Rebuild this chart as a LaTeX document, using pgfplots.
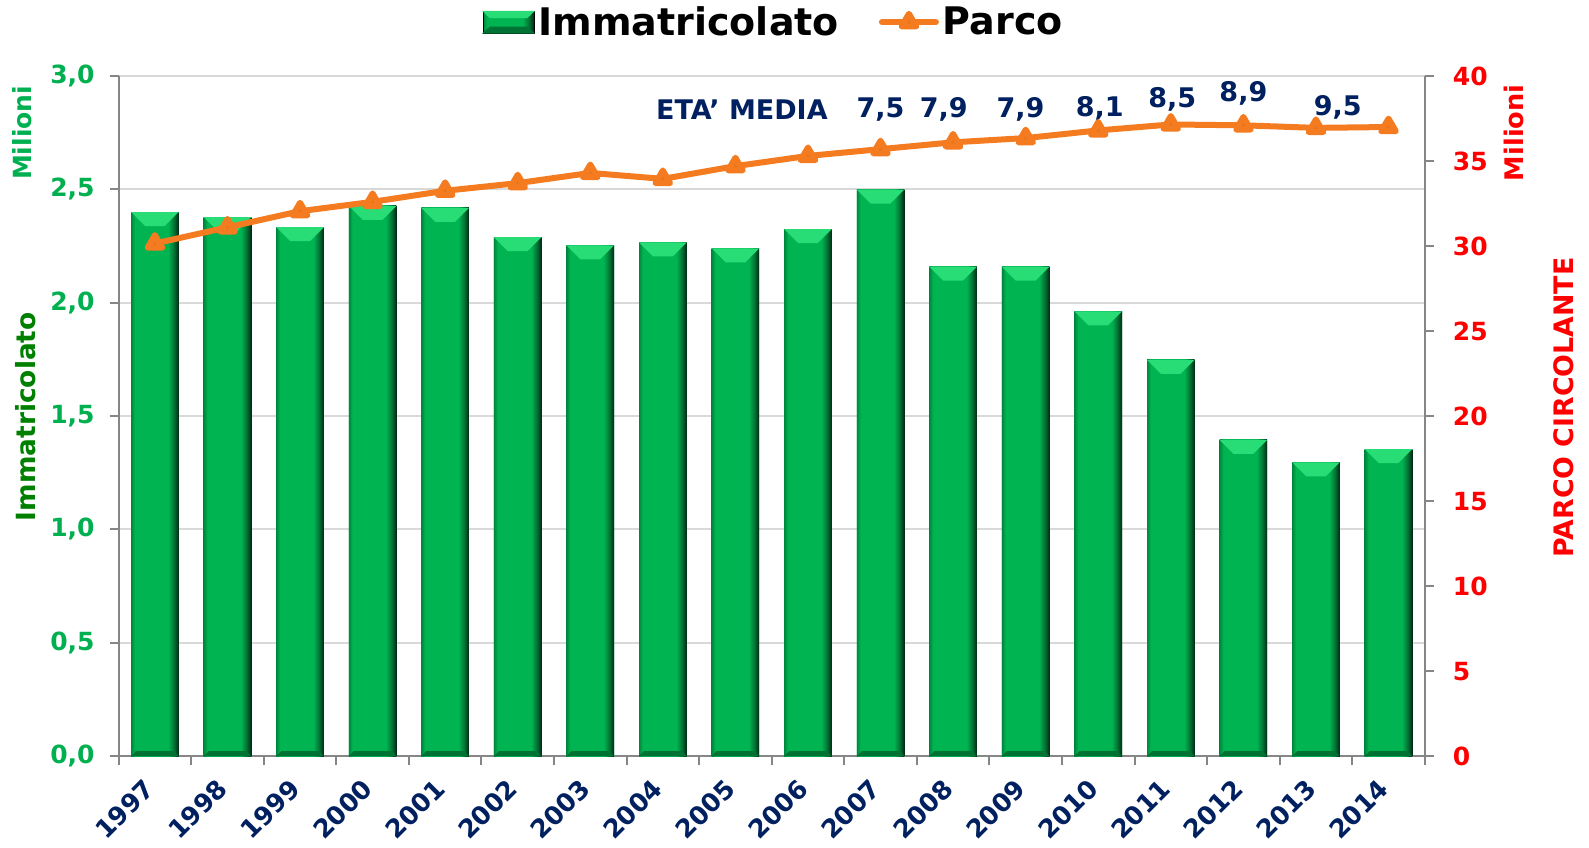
\documentclass[border=0pt]{standalone}
\usepackage{fontspec}
\setmainfont{DejaVu Sans}
\usepackage{pgfplots}
\usepackage{pgfplotstable}
\pgfplotsset{compat=1.18}
\usetikzlibrary{calc}

\definecolor{gM}{RGB}{0,180,82}
\definecolor{gL}{RGB}{0,135,60}
\definecolor{gD}{RGB}{0,40,20}
\definecolor{gD1}{RGB}{0,115,52}
\definecolor{gTop}{RGB}{40,220,118}
\definecolor{tickgreen}{RGB}{0,176,80}
\definecolor{labgreen}{RGB}{0,128,0}
\definecolor{navy}{RGB}{0,32,96}
\definecolor{orangeL}{RGB}{244,123,32}
\definecolor{orangeM}{RGB}{232,116,28}
\definecolor{axgray}{RGB}{134,134,134}
\definecolor{gridgray}{RGB}{217,217,217}

\pgfdeclarehorizontalshading{barshade}{100bp}{color(0bp)=(gL); color(25bp)=(gL); color(29bp)=(gM); color(64bp)=(gM); color(70bp)=(gD1); color(75bp)=(gD); color(100bp)=(gD)}

% bar body drawn per data point: height from the data value (\vv), 340pt for 3 units
\pgfdeclareplotmark{barmark}{%
  \pgfmathsetmacro\bh{-\vv*113.3333}%
  \pgfpathrectanglecorners{\pgfqpoint{-11.9pt}{0pt}}{\pgfqpoint{11.9pt}{\bh pt}}%
  \pgfshadepath{barshade}{0}%
  \pgfusepath{discard}%
  \pgfsetfillcolor{gTop}%
  \pgfpathmoveto{\pgfqpoint{-11.9pt}{0pt}}%
  \pgfpathlineto{\pgfqpoint{11.9pt}{0pt}}%
  \pgfpathlineto{\pgfqpoint{4.9pt}{-7pt}}%
  \pgfpathlineto{\pgfqpoint{-4.9pt}{-7pt}}%
  \pgfpathclose
  \pgfusepathqfill
  \pgfmathsetmacro\bb{\bh+2.5}%
  \pgfsetfillcolor{gD1}%
  \pgfpathmoveto{\pgfqpoint{-11.9pt}{\bh pt}}%
  \pgfpathlineto{\pgfqpoint{11.9pt}{\bh pt}}%
  \pgfpathlineto{\pgfqpoint{9.4pt}{\bb pt}}%
  \pgfpathlineto{\pgfqpoint{-9.4pt}{\bb pt}}%
  \pgfpathclose
  \pgfusepathqfill
}

\pgfplotsset{
  /pgf/number format/assume math mode=true,
  parcolegend/.style={legend image code/.code={\draw[mark repeat=2, mark phase=2, ##1] plot coordinates {(0pt,0pt) (13.5pt,0pt) (27pt,0pt)};}},
  immlegend/.style={legend image code/.code={%
    \path[shading=barshade] (0pt,-5.5pt) rectangle (25.5pt,5.5pt);
    \fill[gTop] (0pt,5.5pt) -- (25.5pt,5.5pt) -- (22pt,2.2pt) -- (3.5pt,2.2pt) -- cycle;
    \fill[gD1] (0pt,-5.5pt) -- (25.5pt,-5.5pt) -- (22pt,-2.4pt) -- (3.5pt,-2.4pt) -- cycle;}},
}

\pgfplotstableread{
x year imm parco
0  1997 2.400 30.15
1  1998 2.378 31.10
2  1999 2.333 32.05
3  2000 2.427 32.60
4  2001 2.418 33.25
5  2002 2.289 33.70
6  2003 2.253 34.30
7  2004 2.266 33.95
8  2005 2.240 34.70
9  2006 2.325 35.30
10 2007 2.499 35.70
11 2008 2.159 36.10
12 2009 2.159 36.35
13 2010 1.962 36.80
14 2011 1.748 37.15
15 2012 1.395 37.10
16 2013 1.296 36.95
17 2014 1.354 37.00
}\data

\begin{document}
\begin{tikzpicture}
\begin{axis}[name=main, at={(0,0)}, anchor=south west,
  scale only axis, width=653pt, height=340pt,
  xmin=-0.5, xmax=17.5, ymin=0, ymax=3,
  axis x line*=bottom, axis y line*=left,
  axis line style={axgray, line width=1pt},
  xtick={0,...,17},
  xticklabels={1997,1998,1999,2000,2001,2002,2003,2004,2005,2006,2007,2008,2009,2010,2011,2012,2013,2014},
  major x tick style={draw=none},
  minor xtick={-0.5,0.5,...,17.5},
  minor x tick style={axgray, line width=1pt},
  minor tick length=4.5pt,
  major tick length=4.5pt,
  ytick={0,0.5,...,3},
  major y tick style={axgray, line width=1pt},
  tick align=outside,
  ymajorgrids, grid style={gridgray, line width=1pt},
  yticklabel={\pgfmathprintnumber[fixed, fixed zerofill, precision=1, use comma]{\tick}},
  yticklabel style={font=\fontsize{12.5}{14}\selectfont\bfseries, text=tickgreen, xshift=-4pt},
  xticklabel style={font=\fontsize{12.7}{14}\selectfont\bfseries, text=navy, xshift=0pt, yshift=-7pt, rotate=45, anchor=east},
  clip=false,
]
\addplot[ybar, bar width=23.8pt, draw=none, fill=gM] table[x=x, y=imm] {\data};
\addplot[scatter, only marks, mark=barmark, forget plot,
  visualization depends on={\thisrow{imm} \as \vv},
  scatter/@pre marker code/.code={}, scatter/@post marker code/.code={}]
  table[x=x, y=imm] {\data};
\node[font=\fontsize{13.5}{15}\selectfont\bfseries, text=navy] at (axis cs:8.09,2.852) {ETA’ MEDIA};
\node[font=\fontsize{13.5}{15}\selectfont\bfseries, text=navy] at (axis cs:10,2.852) {7,5};
\node[font=\fontsize{13.5}{15}\selectfont\bfseries, text=navy] at (axis cs:10.87,2.852) {7,9};
\node[font=\fontsize{13.5}{15}\selectfont\bfseries, text=navy] at (axis cs:11.93,2.852) {7,9};
\node[font=\fontsize{13.5}{15}\selectfont\bfseries, text=navy] at (axis cs:13.02,2.857) {8,1};
\node[font=\fontsize{13.5}{15}\selectfont\bfseries, text=navy] at (axis cs:14.02,2.897) {8,5};
\node[font=\fontsize{13.5}{15}\selectfont\bfseries, text=navy] at (axis cs:15.0,2.924) {8,9};
\node[font=\fontsize{13.5}{15}\selectfont\bfseries, text=navy] at (axis cs:16.3,2.861) {9,5};
\end{axis}

\begin{axis}[at={(0,0)}, anchor=south west,
  scale only axis, width=653pt, height=340pt,
  xmin=-0.5, xmax=17.5, ymin=0, ymax=40,
  axis x line=none, axis y line*=right,
  axis line style={axgray, line width=1pt},
  ytick={0,5,...,40},
  major tick length=4.5pt, tick align=outside,
  major y tick style={axgray, line width=1pt},
  yticklabel style={font=\fontsize{12.5}{14}\selectfont\bfseries, text=red, xshift=6pt},
  legend style={at={(0.5,1)}, anchor=center, xshift=1.5pt, yshift=26.9pt, draw=none, fill=none,
    legend columns=2, font=\fontsize{19}{21}\selectfont\bfseries},
  clip=false,
]
\addlegendimage{immlegend}
\addlegendentry{Immatricolato\hspace{18pt}\mbox{}}
\addplot[color=orangeL, line width=3pt, line cap=round, line join=round,
  mark=triangle*, mark size=4.2pt, mark options={fill=orangeM, draw=none}, parcolegend]
  table[x=x, y=parco] {\data};
\addlegendentry{Parco}
\end{axis}

\node[rotate=90, font=\fontsize{12.5}{14}\selectfont\bfseries, text=tickgreen] at ($(main.south west)+(-48.1pt,311.6pt)$) {Milioni};
\node[rotate=90, font=\fontsize{13.2}{15}\selectfont\bfseries, text=labgreen] at ($(main.south west)+(-46.6pt,169.7pt)$) {Immatricolato};
\node[rotate=90, font=\fontsize{12.8}{14}\selectfont\bfseries, text=red] at ($(main.south west)+(697.7pt,311.6pt)$) {Milioni};
\node[rotate=90, font=\fontsize{13.4}{15}\selectfont\bfseries, text=red] at ($(main.south west)+(722.6pt,174.3pt)$) {PARCO CIRCOLANTE};

\pgfresetboundingbox
\path ($(main.south west)+(-59.3pt,-45.5pt)$) rectangle ($(main.north east)+(82.1pt,38pt)$);
\end{tikzpicture}
\end{document}
